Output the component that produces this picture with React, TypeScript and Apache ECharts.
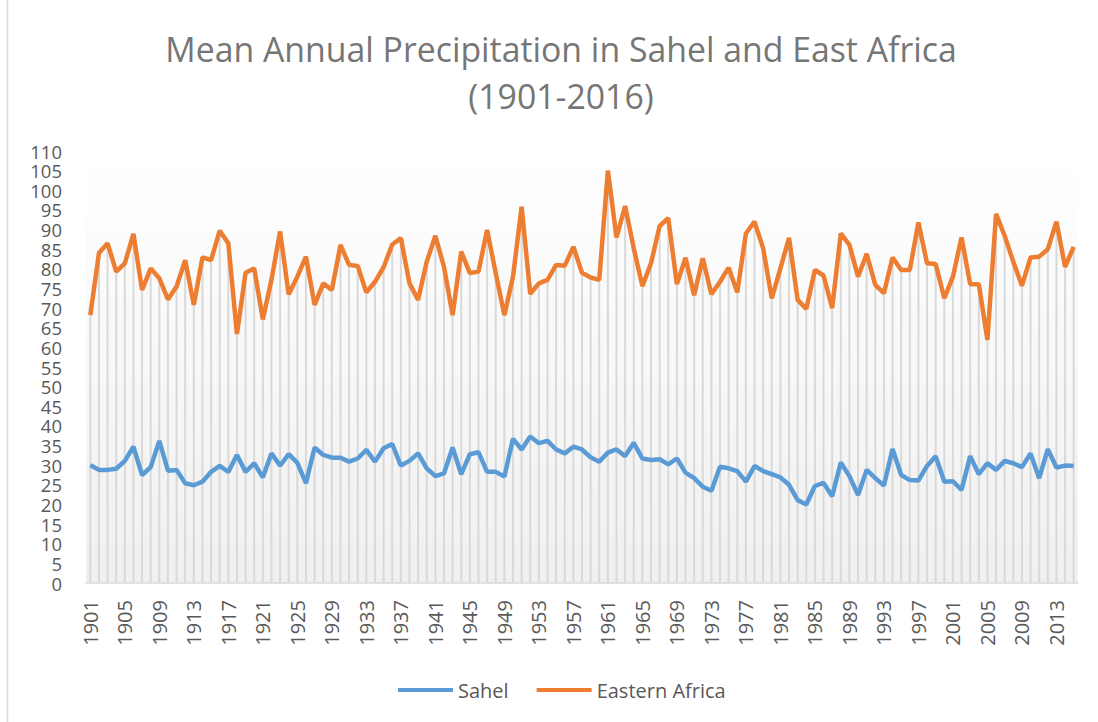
import React, { useEffect, useRef } from "react";
import * as echarts from "echarts";

const years: string[] = [];
for (let y = 1901; y <= 2015; y++) years.push(String(y));

const sahel: number[] = [
  30.0, 28.8, 28.8, 29.1, 31.1, 34.7, 27.5, 29.5, 36.2, 28.6,
  28.8, 25.4, 24.9, 25.8, 28.3, 29.8, 28.3, 32.6, 28.3, 30.5,
  26.9, 33.0, 29.9, 32.8, 30.6, 25.4, 34.5, 32.6, 31.9, 31.9,
  30.9, 31.7, 33.9, 30.9, 34.3, 35.4, 29.9, 31.1, 33.0, 29.2,
  27.2, 27.9, 34.5, 27.7, 32.8, 33.3, 28.3, 28.3, 27.1, 36.7,
  34.0, 37.3, 35.6, 36.2, 34.0, 33.0, 34.7, 34.0, 32.0, 30.9,
  33.2, 34.0, 32.3, 35.7, 31.7, 31.3, 31.5, 30.2, 31.7, 28.1,
  26.7, 24.5, 23.5, 29.6, 29.2, 28.5, 25.8, 29.8, 28.5, 27.7,
  26.9, 25.0, 21.1, 20.0, 24.7, 25.5, 22.1, 30.7, 27.2, 22.4,
  28.8, 26.7, 24.8, 34.1, 27.5, 26.2, 26.1, 29.8, 32.3, 25.8,
  25.9, 23.7, 32.3, 27.7, 30.5, 28.8, 31.1, 30.5, 29.5, 33.0,
  26.7, 34.1, 29.4, 29.9, 29.8,
];

const easternAfrica: number[] = [
  68.2, 84.0, 86.5, 79.3, 81.4, 88.9, 74.6, 80.1, 77.6, 72.2,
  75.5, 82.2, 70.8, 82.9, 82.2, 89.7, 86.5, 63.4, 79.0, 80.1,
  67.1, 77.2, 89.5, 73.5, 78.0, 83.1, 70.8, 76.3, 74.6, 86.1,
  81.0, 80.7, 74.0, 76.7, 80.4, 86.2, 87.8, 76.3, 72.1, 81.8,
  88.4, 80.5, 68.2, 84.4, 78.9, 79.3, 89.9, 78.9, 68.2, 78.0,
  95.8, 73.6, 76.3, 77.2, 81.0, 80.8, 85.6, 79.0, 77.8, 77.2,
  105.0, 88.0, 96.0, 85.2, 75.6, 81.4, 90.9, 92.9, 76.1, 82.8,
  73.3, 82.7, 73.5, 76.7, 80.3, 74.0, 89.0, 92.0, 85.2, 72.5,
  80.1, 87.9, 72.1, 69.8, 79.7, 78.3, 70.0, 89.0, 86.1, 78.0,
  83.8, 75.9, 73.8, 82.9, 79.7, 79.7, 91.8, 81.4, 81.2, 72.5,
  78.0, 88.0, 76.1, 76.1, 61.9, 94.0, 88.4, 81.8, 75.7, 82.9,
  83.1, 85.0, 92.0, 80.5, 85.6,
];

const titleText = "Mean Annual Precipitation in Sahel and East Africa\n(1901-2016)";
const FONT = "'Open Sans', sans-serif";

export default function App() {
  const ref = useRef<HTMLDivElement>(null);
  useEffect(() => {
    document.body.style.margin = "0";
    if (!ref.current) return;
    const chart = echarts.init(ref.current, null, { renderer: "svg" });
    const dropLines = sahel.map((v, i) => Math.max(v, easternAfrica[i]));
    chart.setOption({
      animation: false,
      backgroundColor: "#ffffff",
      textStyle: { fontFamily: FONT },
      title: {
        text: titleText,
        left: 556,
        top: 20,
        textAlign: "center",
        textStyle: {
          fontFamily: FONT,
          fontSize: 33.8,
          fontWeight: "normal",
          color: "#767676",
          lineHeight: 47,
        },
      },
      legend: {
        data: ["Sahel", "Eastern Africa"],
        left: 393,
        top: 675,
        icon: "rect",
        itemWidth: 55,
        itemHeight: 4,
        itemGap: 28,
        textStyle: { fontFamily: FONT, fontSize: 20, color: "#595959" },
      },
      graphic: [
        {
          type: "line",
          shape: { x1: 7.5, y1: 0, x2: 7.5, y2: 722 },
          style: { stroke: "#d9d9d9", lineWidth: 1.5 },
          silent: true,
        },
      ],
      grid: {
        left: 86,
        right: 20,
        top: 151,
        bottom: 139,
        show: true,
        borderWidth: 0,
        backgroundColor: new echarts.graphic.LinearGradient(0, 0, 0, 1, [
          { offset: 0, color: "#ffffff" },
          { offset: 1, color: "#f0f0f0" },
        ]),
      },
      xAxis: {
        type: "category",
        data: years,
        boundaryGap: true,
        axisLine: { show: true, lineStyle: { color: "#d9d9d9", width: 1.5 } },
        axisTick: { show: false },
        axisLabel: {
          interval: 3,
          rotate: 90,
          margin: 17,
          fontFamily: FONT,
          fontSize: 20,
          color: "#595959",
        },
        splitLine: { show: false },
      },
      yAxis: {
        type: "value",
        min: 0,
        max: 110,
        interval: 5,
        axisLine: { show: false },
        axisTick: { show: false },
        splitLine: { show: false },
        axisLabel: {
          margin: 24,
          fontFamily: FONT,
          fontSize: 18.5,
          lineHeight: 17,
          color: "#595959",
          showMinLabel: true,
          showMaxLabel: true,
          hideOverlap: false,
        },
      },
      series: [
        {
          name: "drop",
          type: "bar",
          data: dropLines,
          barWidth: 2,
          itemStyle: { color: "#d9d9d9" },
          silent: true,
          z: 1,
        },
        {
          name: "Sahel",
          type: "line",
          data: sahel,
          symbol: "none",
          lineStyle: { color: "#5B9BD5", width: 4.5 },
          itemStyle: { color: "#5B9BD5" },
          z: 3,
        },
        {
          name: "Eastern Africa",
          type: "line",
          data: easternAfrica,
          symbol: "none",
          lineStyle: { color: "#ED7D31", width: 4.5 },
          itemStyle: { color: "#ED7D31" },
          z: 3,
        },
      ],
    });
    return () => chart.dispose();
  }, []);
  return <div ref={ref} style={{ width: 1098, height: 722 }} />;
}
